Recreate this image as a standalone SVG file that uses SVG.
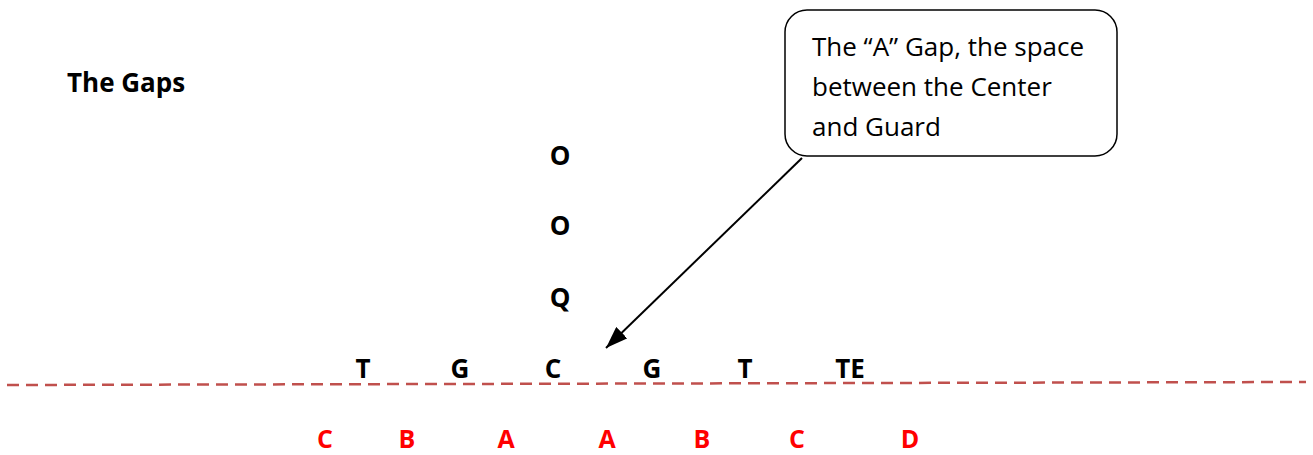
<svg xmlns="http://www.w3.org/2000/svg" width="1313" height="455" viewBox="0 0 1313 455">
<style>
.b{font-family:"Open Sans","Liberation Sans",sans-serif;font-weight:bold;font-size:26px;fill:#000;text-anchor:middle}
.r{fill:#FF0000;font-size:25px}
.c{font-family:"Open Sans","Liberation Sans",sans-serif;font-size:26px;fill:#000}
</style>
<defs>
<marker id="ah" markerWidth="22" markerHeight="16" refX="22" refY="8" orient="auto" markerUnits="userSpaceOnUse" viewBox="0 0 22 16">
<path d="M0,0 L22,8 L0,16 z" fill="#000"/>
</marker>
</defs>
<rect width="1313" height="455" fill="#fff"/>
<g id="title"><text class="b" x="67" y="92" style="text-anchor:start">The Gaps</text></g>
<g id="backfield">
<text class="b" x="560" y="165">O</text>
<text class="b" x="560" y="235">O</text>
<text class="b" x="560" y="307">Q</text>
</g>
<g id="line-of-scrimmage">
<text class="b" x="363" y="378">T</text>
<text class="b" x="460" y="378">G</text>
<text class="b" x="553" y="378">C</text>
<text class="b" x="652" y="378">G</text>
<text class="b" x="745" y="378">T</text>
<text class="b" x="850" y="378">TE</text>
</g>
<g id="gaps">
<text class="b r" x="325" y="448">C</text>
<text class="b r" x="407" y="448">B</text>
<text class="b r" x="506" y="448">A</text>
<text class="b r" x="607" y="448">A</text>
<text class="b r" x="702" y="448">B</text>
<text class="b r" x="797" y="448">C</text>
<text class="b r" x="910" y="448">D</text>
</g>
<g id="callout">
<rect x="785" y="10" width="332" height="146" rx="22" ry="22" fill="#fff" stroke="#000" stroke-width="1.5"/>
<text class="c" x="812" y="56">The “A” Gap, the space</text>
<text class="c" x="812" y="96">between the Center</text>
<text class="c" x="812" y="136">and Guard</text>
</g>
<g id="connectors">
<line x1="7" y1="385" x2="1306" y2="382" stroke="#C0504D" stroke-width="2.5" stroke-dasharray="12,7"/>
<line x1="802" y1="158" x2="606" y2="348" stroke="#000" stroke-width="2" marker-end="url(#ah)"/>
</g>
</svg>
